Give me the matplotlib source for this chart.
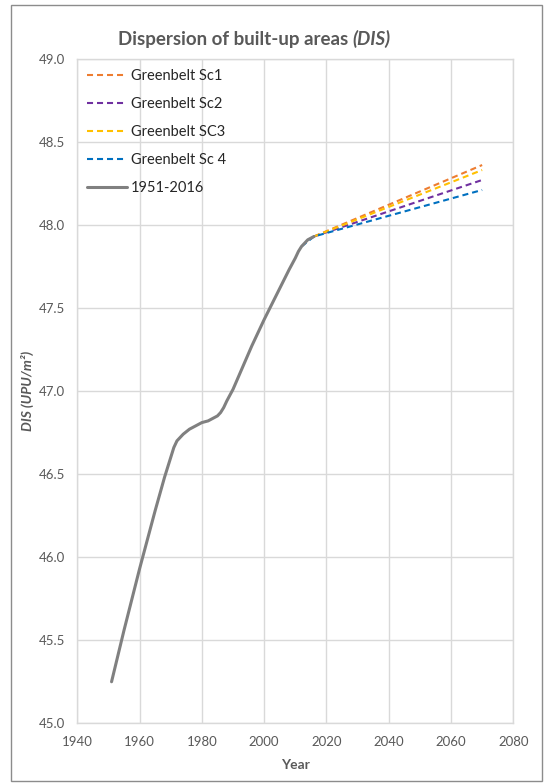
import matplotlib
matplotlib.use("Agg")
import matplotlib.pyplot as plt
from matplotlib.patches import Rectangle

plt.rcParams['font.family'] = ['Lato', 'DejaVu Sans']

# Observed dispersion 1951-2016
hist_years = [1951, 1955, 1960, 1965, 1968, 1970, 1971, 1972, 1974, 1976, 1978, 1980,
              1982, 1984, 1985, 1986, 1987, 1988, 1990, 1993, 1996, 2000, 2004,
              2008, 2010, 2011, 2012, 2013, 2014, 2016]
hist_values = [45.25, 45.56, 45.93, 46.28, 46.48, 46.60, 46.66, 46.70, 46.74, 46.77, 46.79, 46.81,
               46.82, 46.84, 46.85, 46.87, 46.90, 46.94, 47.01, 47.14, 47.27, 47.43, 47.58,
               47.73, 47.80, 47.84, 47.87, 47.89, 47.91, 47.93]

# Greenbelt scenario projections
sc_years = [2016, 2070]
sc1_values = [47.93, 48.36]
sc2_values = [47.93, 48.27]
sc3_values = [47.93, 48.33]
sc4_years = [2012, 2016, 2070]
sc4_values = [47.87, 47.93, 48.21]

series_labels = ["Greenbelt Sc1", "Greenbelt Sc2", "Greenbelt SC3", "Greenbelt Sc 4", "1951-2016"]
x_ticks = [1940, 1960, 1980, 2000, 2020, 2040, 2060, 2080]
y_ticks = [45.0, 45.5, 46.0, 46.5, 47.0, 47.5, 48.0, 48.5, 49.0]

W, H = 544, 783
fig = plt.figure(figsize=(W / 100, H / 100), dpi=100)
fig.patch.set_facecolor("white")

# outer chart frame
fig.add_artist(Rectangle((10.5 / W, 1 - 781 / H), (541.5 - 10.5) / W, (781 - 5) / H,
                         transform=fig.transFigure, fill=False, edgecolor="#8C8C8C", lw=1.0))

ax = fig.add_axes([77.3 / W, 1 - 723.3 / H, (513.3 - 77.3) / W, (723.3 - 58.7) / H])

text_col = "#595959"
grid_col = "#D9D9D9"
dash = (0, (2.9, 1.9))

ax.plot(sc_years, sc1_values, color="#ED7D31", lw=1.5, ls=dash, label=series_labels[0])
ax.plot(sc_years, sc2_values, color="#7030A0", lw=1.5, ls=dash, label=series_labels[1])
ax.plot(sc_years, sc3_values, color="#FFC000", lw=1.5, ls=dash, label=series_labels[2])
ax.plot(sc4_years, sc4_values, color="#0070C0", lw=1.5, ls=dash, label=series_labels[3])
ax.plot(hist_years, hist_values, color="#808080", lw=2.2, solid_capstyle="round",
        solid_joinstyle="round", label=series_labels[4])

ax.set_xlim(1940, 2080)
ax.set_ylim(45.0, 49.0)
ax.set_xticks(x_ticks)
ax.set_yticks(y_ticks)
ax.set_yticklabels([f"{v:.1f}" for v in y_ticks])
ax.grid(True, color=grid_col, lw=1.0)
ax.set_axisbelow(True)
for s in ax.spines.values():
    s.set_color(grid_col)
    s.set_linewidth(1.0)
ax.tick_params(length=0, labelsize=9.5, labelcolor=text_col, pad=9)

ax.set_xlabel("Year", fontsize=10, fontweight="bold", color=text_col, labelpad=8)
ax.set_ylabel("DIS (UPU/m²)", fontsize=10, fontweight="bold", fontstyle="italic",
              color=text_col, labelpad=3)

leg = ax.legend(loc="upper left", bbox_to_anchor=(0.0216, 0.984), frameon=False,
                fontsize=10.5, handlelength=2.75, handletextpad=0.3, labelspacing=0.95,
                borderpad=0, borderaxespad=0)
for t in leg.get_texts():
    t.set_color("#262626")

# title with an italic tail
fig.canvas.draw()
r = fig.canvas.get_renderer()
t1 = fig.text(0, 1 - 39 / H, "Dispersion of built-up areas ", fontsize=13.5,
              fontweight="bold", color=text_col, va="center", ha="left")
t2 = fig.text(0, 1 - 39 / H, "(DIS)", fontsize=13.5, fontweight="bold",
              fontstyle="italic", color=text_col, va="center", ha="left")
w1 = t1.get_window_extent(r).width
w2 = t2.get_window_extent(r).width
x0 = 254 - (w1 + w2) / 2
t1.set_x(x0 / W)
t2.set_x((x0 + w1) / W)

fig.savefig("out.png", dpi=100, facecolor="white")
